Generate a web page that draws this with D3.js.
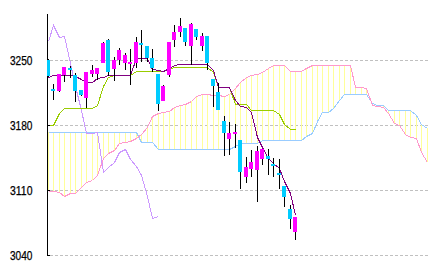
<!DOCTYPE html>
<html><head><meta charset="utf-8">
<script src="https://cdn.jsdelivr.net/npm/d3@7"></script>
<style>html,body{margin:0;padding:0;background:#fff;}svg{display:block;}</style>
</head><body>
<svg id="c" width="432" height="269"></svg>
<script>
// ---- data ----
const yTicks = [3040, 3110, 3180, 3250];
const opens = [3250.5,3219.3,3217.2,3234.1,3241.9,3234.1,3218.2,3209.6,3235.5,3235.5,
 3247.6,3272.1,3241.2,3250.5,3247.0,3247.0,3247.6,3269.2,3265.6,3252.4,
 3235.5,3206.4,3234.4,3272.1,3280.7,3285.0,3265.6,3283.9,3265.6,3276.4,
 3230.1,3216.1,3184.8,3165.5,3170.8,3164.4,3124.5,3133.2,3132.1,3143.9,
 3147.2,3138.5,3128.8,3114.8,3090.1,3065.6];
const highs = [3252.0,3224.7,3235.5,3243.3,3244.1,3236.9,3218.2,3237.6,3244.8,3241.9,
 3270.0,3272.8,3254.1,3263.8,3257.8,3262.4,3275.0,3282.8,3265.6,3262.4,
 3235.5,3223.6,3270.2,3288.0,3295.8,3285.0,3290.7,3283.9,3279.3,3276.4,
 3230.1,3225.8,3190.2,3184.1,3181.6,3164.4,3145.8,3153.6,3157.9,3154.7,
 3154.7,3145.0,3143.9,3114.8,3094.4,3081.1];
const lows = [3232.0,3206.9,3215.8,3227.2,3231.2,3205.6,3212.0,3199.0,3232.6,3229.0,
 3247.0,3233.3,3228.2,3245.2,3239.8,3223.3,3241.6,3248.7,3248.4,3237.9,
 3195.6,3206.4,3232.6,3264.0,3275.6,3266.0,3245.2,3272.0,3260.6,3239.8,
 3200.2,3196.7,3147.2,3148.2,3156.0,3111.6,3118.1,3124.5,3097.6,3137.5,
 3126.7,3125.0,3111.6,3092.5,3068.5,3056.7];
const closes = [3233.3,3217.7,3235.5,3243.3,3239.8,3217.5,3213.2,3237.6,3239.8,3241.9,
 3269.2,3237.9,3250.5,3261.3,3255.9,3248.7,3269.9,3267.0,3252.4,3241.6,
 3203.0,3222.5,3270.2,3280.7,3287.2,3269.9,3289.3,3275.0,3276.4,3247.0,
 3222.5,3196.7,3171.6,3172.2,3173.0,3129.9,3135.3,3140.7,3152.5,3154.7,
 3143.9,3136.4,3126.7,3103.3,3079.3,3081.1];
const tenkan = [3232.2,3234.4,3234.4,3234.4,3234.4,3233.3,3230.1,3227.2,3227.2,3231.2,
 3232.6,3234.1,3234.1,3234.1,3234.1,3234.1,3252.4,3252.4,3252.4,3240.3,
 3239.8,3239.0,3241.9,3245.2,3246.2,3246.2,3246.2,3246.2,3246.2,3246.2,
 3239.8,3221.5,3221.5,3221.5,3207.5,3201.0,3199.9,3194.5,3167.6,3156.8,
 3145.0,3139.6,3134.2,3120.2,3107.3,3083.6];
const kijun = [3180.0,3180.0,3193.5,3198.3,3198.5,3198.5,3198.5,3198.5,3198.5,3202.1,
 3222.5,3232.2,3233.8,3233.8,3233.8,3233.8,3238.7,3238.7,3238.7,3238.7,
 3238.7,3238.7,3240.8,3243.3,3243.3,3243.3,3243.3,3243.3,3243.3,3243.3,
 3237.6,3221.1,3221.1,3221.1,3203.2,3203.2,3203.2,3196.7,3196.7,3196.7,
 3196.7,3196.7,3192.4,3181.6,3176.2,3176.2];
const spanA = [3109.5,3109.5,3108.4,3104.1,3107.0,3107.6,3114.1,3119.2,3120.8,3126.7,
 3145.0,3150.4,3153.6,3161.2,3162.2,3162.8,3166.5,3170.8,3178.4,3190.2,
 3192.9,3194.0,3195.6,3199.9,3202.1,3203.2,3206.4,3211.8,3213.9,3213.9,
 3212.8,3212.8,3211.8,3213.9,3220.4,3227.2,3232.2,3234.4,3235.5,3237.6,
 3241.9,3244.8,3244.8,3244.8,3238.7,3238.7,3238.7,3241.6,3244.8,3244.8,
 3244.8,3244.8,3244.8,3244.8,3244.8,3244.8,3221.8,3221.1,3220.4,3202.1,
 3201.0,3199.4,3193.5,3182.7,3180.0,3170.8,3167.6,3166.2,3151.5,3141.0];
const spanB = [3173.3,3173.3,3173.3,3173.3,3173.3,3173.3,3173.3,3173.3,3173.3,3173.3,
 3173.3,3173.3,3173.3,3173.3,3173.3,3173.3,3173.3,3162.6,3162.6,3162.6,
 3154.7,3154.4,3154.4,3154.4,3154.4,3154.4,3154.4,3154.4,3154.4,3154.4,
 3154.4,3154.4,3154.4,3154.4,3157.9,3161.2,3161.2,3161.2,3161.2,3164.4,
 3164.4,3164.4,3164.4,3164.4,3164.4,3164.4,3164.4,3168.4,3172.4,3184.3,
 3194.7,3194.7,3199.0,3207.5,3213.6,3213.6,3213.6,3213.6,3213.6,3204.2,
 3202.1,3202.1,3196.7,3196.7,3196.7,3196.7,3196.7,3191.8,3181.6,3177.0];
const chikou = [3271.0,3288.2,3275.6,3276.4,3247.3,3222.5,3196.7,3171.6,3172.2,3173.0,
 3129.9,3135.3,3140.7,3151.5,3154.2,3143.9,3136.4,3126.7,3104.1,3080.4,3082.5];

// ---- chart ----
const svg = d3.select('#c');
const x = d3.scaleLinear().domain([0, 69]).range([48, 426.8]);
const y = d3.scaleLinear().domain([3040, 3300]).range([255.5, 14]);
const px = i => Math.round(x(i));
const py = v => Math.round(y(v));

// grid
const grid = svg.append('g');
yTicks.forEach(t => {
  const yy = Math.floor(y(t)) + 0.5;
  grid.append('line').attr('x1', 50).attr('x2', 428).attr('y1', yy).attr('y2', yy)
    .attr('stroke', '#c0c0c0').attr('stroke-dasharray', '3,2').attr('shape-rendering','crispEdges');
});

// cloud hatch
const idx = d3.range(spanA.length);
svg.append('g').selectAll('line').data(idx).join('line')
  .attr('x1', i => px(i) + 0.5).attr('x2', i => px(i) + 0.5)
  .attr('y1', i => y(spanA[i])).attr('y2', i => y(spanB[i]))
  .attr('stroke', '#ffff99').attr('shape-rendering', 'crispEdges');

function drawLine(arr, color) {
  svg.append('path').datum(arr)
    .attr('d', d3.line().x((d, i) => px(i) + 0.5).y(d => py(d) + 0.5))
    .attr('fill', 'none').attr('stroke', color).attr('stroke-width', 1)
    .attr('shape-rendering', 'crispEdges');
}
drawLine(spanB, '#99ccff');
drawLine(spanA, '#ff99cc');
drawLine(chikou, '#cc99ff');
drawLine(kijun, '#99cc00');
drawLine(tenkan, '#800080');

// axis
svg.append('line').attr('x1', 47.5).attr('x2', 47.5).attr('y1', 14).attr('y2', 256)
  .attr('stroke', '#000').attr('shape-rendering', 'crispEdges');
yTicks.forEach(t => {
  const yy = Math.floor(y(t)) + 0.5;
  svg.append('line').attr('x1', 47).attr('x2', 50).attr('y1', yy).attr('y2', yy)
    .attr('stroke', '#000').attr('shape-rendering', 'crispEdges');
  svg.append('text').attr('x', 10).attr('y', yy + 4.5)
    .attr('font-family', 'Liberation Sans, Arial, sans-serif').attr('font-size', 12.5)
    .attr('textLength', 22.5).attr('lengthAdjust', 'spacingAndGlyphs')
    .attr('fill', '#000').attr('stroke', '#000').attr('stroke-width', 0.25).text(t);
});

// candles
const cg = svg.append('g').attr('shape-rendering', 'crispEdges');
const cidx = d3.range(opens.length);
cg.selectAll('rect.w').data(cidx).join('rect').attr('class', 'w')
  .attr('x', i => px(i)).attr('width', 1)
  .attr('y', i => py(highs[i])).attr('height', i => Math.max(1, py(lows[i]) - py(highs[i])))
  .attr('fill', '#000');
cg.selectAll('rect.b').data(cidx).join('rect').attr('class', 'b')
  .attr('x', i => Math.max(47, px(i) - 2)).attr('width', i => px(i) + 2 - Math.max(47, px(i) - 2))
  .attr('y', i => py(Math.max(opens[i], closes[i])))
  .attr('height', i => Math.max(2, py(Math.min(opens[i], closes[i])) - py(Math.max(opens[i], closes[i]))))
  .attr('fill', i => closes[i] >= opens[i] ? '#ff00ff' : '#00ccff');
</script>
</body></html>
